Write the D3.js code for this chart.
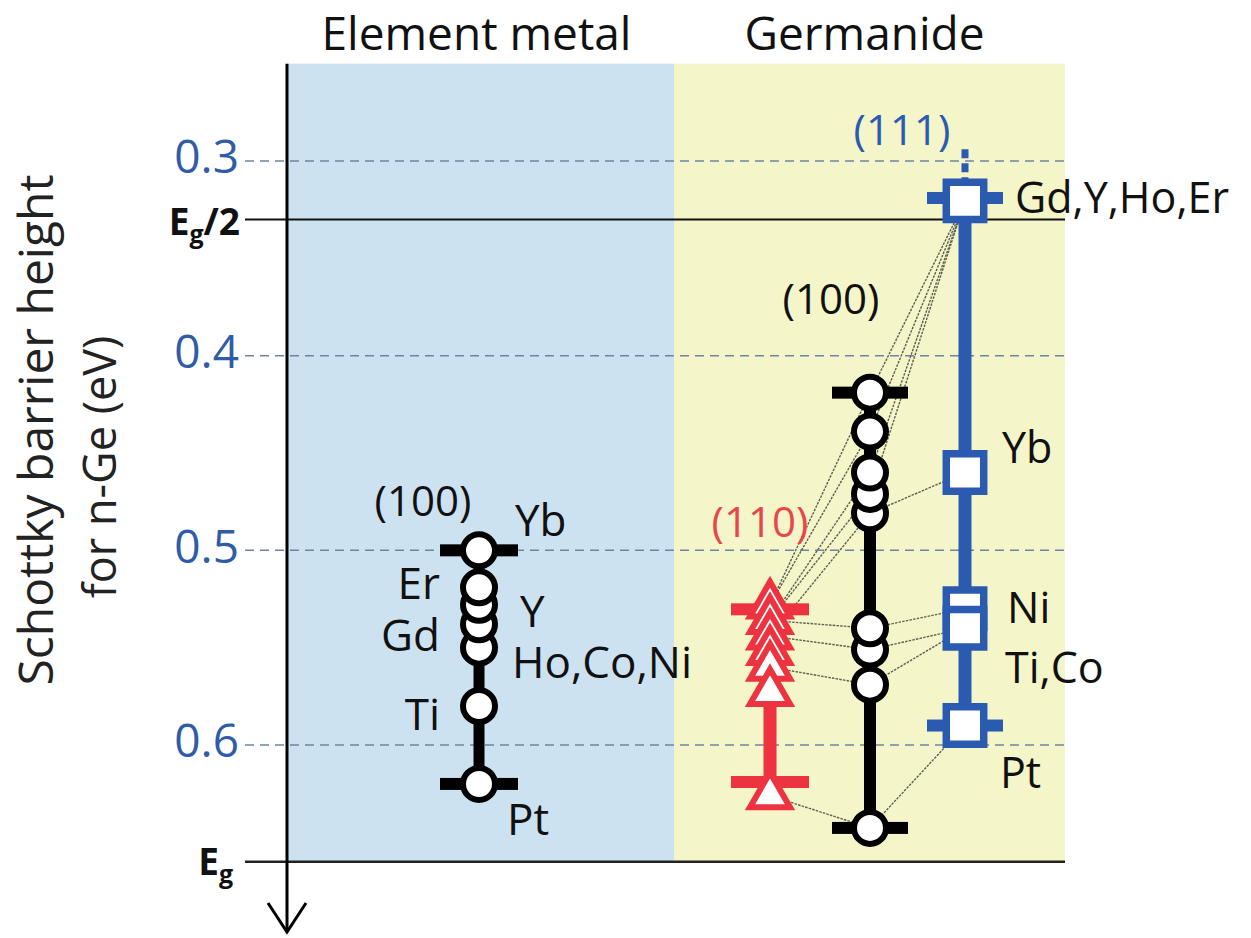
<!DOCTYPE html>
<html><head><meta charset="utf-8">
<script src="https://cdn.jsdelivr.net/npm/d3@7"></script>
<style>
body{margin:0;background:#fff}
svg{display:block}
text{font-family:"Open Sans",sans-serif}
</style>
</head><body>
<svg id="c" width="1251" height="938"></svg>
<script>
// ---------- data ----------
const yTicks = [0.3, 0.4, 0.5, 0.6];
const plotTopValue = 0.25;
const EgHalf = 0.33;
const Eg = 0.66;

const groupTitles = ["Element metal", "Germanide"];
const columns = ["metal100", "ge110", "ge100", "ge111"];
const columnLabels = ["(100)", "(110)", "(100)", "(111)"];

const metalNames = ["Yb", "Er", "Y", "Gd", "Ho,Co,Ni", "Ti", "Pt"];
const metalSBH   = [0.500, 0.519, 0.528, 0.538, 0.550, 0.580, 0.620];
const metalRange = [0.500, 0.620];

const ge110SBH   = [0.528, 0.536, 0.544, 0.552, 0.560, 0.573, 0.626];
const ge110Range = [0.5303, 0.619];

const ge100SBH   = [0.419, 0.439, 0.460, 0.471, 0.481, 0.540, 0.551, 0.569, 0.6426];
const ge100Range = [0.419, 0.6426];

const ge111Names = ["Gd,Y,Ho,Er", "Yb", "Ni", "Ti,Co", "Pt"];
const ge111SBH   = [0.3205, 0.460, 0.530, 0.540, 0.590];
const ge111Range = [0.319, 0.590];
const ge111Upper = 0.294;

// element-wise links (110) -> (100) -> (111)
const linkNames = ["Gd", "Y", "Ho", "Er", "Yb", "Ni", "Ti", "Co", "Pt"];
const link110 = [0.528, 0.528, 0.536, 0.536, 0.544, 0.536, 0.544, 0.560, 0.626];
const link100 = [0.419, 0.439, 0.460, 0.471, 0.481, 0.540, 0.551, 0.569, 0.6426];
const link111 = [0.3205, 0.3205, 0.3205, 0.3205, 0.460, 0.530, 0.540, 0.540, 0.590];

// ---------- layout ----------
const svg = d3.select("#c");
const y = d3.scaleLinear().domain([0.3, 0.6]).range([161, 745]);
const x = d3.scaleOrdinal().domain(columns).range([479, 770, 870, 965]);
const axisX = 287, splitX = 674, rightX = 1065, lineLeft = 245;

const C = {
  blueBg: "#cde2f1", yellowBg: "#f4f5c8",
  grid: "#6f84a3", tick: "#2f5ca8",
  red: "#ee3340", redText: "#e8474a", blue: "#2a5bb0", black: "#000"
};

// backgrounds
svg.append("rect").attr("x", axisX).attr("y", y(plotTopValue))
  .attr("width", splitX - axisX).attr("height", y(Eg) - y(plotTopValue)).attr("fill", C.blueBg);
svg.append("rect").attr("x", splitX).attr("y", y(plotTopValue))
  .attr("width", rightX - splitX).attr("height", y(Eg) - y(plotTopValue)).attr("fill", C.yellowBg);

// group titles
svg.selectAll("text.gt").data(groupTitles).join("text")
  .attr("class", "gt")
  .attr("x", (d, i) => i === 0 ? (axisX + splitX) / 2 - 4 : (splitX + rightX) / 2 - 5)
  .attr("y", 50).attr("text-anchor", "middle")
  .attr("font-size", 46).attr("fill", "#111").text(d => d);

// dashed grid lines
svg.selectAll("line.grid").data(yTicks).join("line")
  .attr("class", "grid")
  .attr("x1", lineLeft).attr("x2", rightX)
  .attr("y1", d => y(d)).attr("y2", d => y(d))
  .attr("stroke", C.grid).attr("stroke-width", 1.5).attr("stroke-dasharray", "9,6");

// Eg/2 and Eg lines
svg.append("line").attr("x1", lineLeft).attr("x2", rightX)
  .attr("y1", y(EgHalf)).attr("y2", y(EgHalf)).attr("stroke", "#111").attr("stroke-width", 2);
svg.append("line").attr("x1", lineLeft).attr("x2", rightX)
  .attr("y1", y(Eg)).attr("y2", y(Eg)).attr("stroke", "#222").attr("stroke-width", 2.5);

// tick labels via axis
const axis = d3.axisLeft(y).tickValues(yTicks).tickFormat(d3.format(".1f")).tickSize(0).tickPadding(6);
const ax = svg.append("g").attr("transform", `translate(${lineLeft},-3)`).call(axis);
ax.select(".domain").remove();
ax.selectAll("text").attr("font-size", 46).attr("fill", C.tick)
  .attr("font-family", "'Open Sans',sans-serif");

// Eg/2 and Eg labels
const eh = svg.append("text").attr("x", 240).attr("y", y(EgHalf) + 16)
  .attr("text-anchor", "end").attr("font-weight", "bold").attr("font-size", 37).attr("fill", "#111");
eh.append("tspan").text("E");
eh.append("tspan").attr("font-size", 25).attr("dy", 8).text("g");
eh.append("tspan").attr("dy", -8).text("/2");
const eg = svg.append("text").attr("x", 233).attr("y", y(Eg) + 13)
  .attr("text-anchor", "end").attr("font-weight", "bold").attr("font-size", 37).attr("fill", "#111");
eg.append("tspan").text("E");
eg.append("tspan").attr("font-size", 25).attr("dy", 8).text("g");

// y axis with arrow
svg.append("line").attr("x1", axisX).attr("x2", axisX)
  .attr("y1", y(plotTopValue)).attr("y2", 931).attr("stroke", "#000").attr("stroke-width", 3);
svg.append("path").attr("d", `M${axisX - 19},903 L${axisX},932 L${axisX + 19},903`)
  .attr("fill", "none").attr("stroke", "#000").attr("stroke-width", 3);

// axis title
svg.append("text").attr("transform", "translate(53,430) rotate(-90)")
  .attr("text-anchor", "middle").attr("font-size", 48).attr("fill", "#222").text("Schottky barrier height");
svg.append("text").attr("transform", "translate(116,467) rotate(-90)")
  .attr("text-anchor", "middle").attr("font-size", 45).attr("fill", "#222").text("for n-Ge (eV)");

// links
const linkData = linkNames.map((n, i) => [["ge110", link110[i]], ["ge100", link100[i]], ["ge111", link111[i]]]);
const lineGen = d3.line().x(d => x(d[0])).y(d => y(d[1]));
svg.append("g").selectAll("path").data(linkData).join("path")
  .attr("d", lineGen).attr("fill", "none")
  .attr("stroke", "#5d5f52").attr("stroke-width", 1.4).attr("stroke-dasharray", "2.5,1.2");

// helper: vertical bar with caps
function column(col, range, color, width, capW) {
  const g = svg.append("g");
  g.append("line").attr("x1", x(col)).attr("x2", x(col))
    .attr("y1", y(range[0])).attr("y2", y(range[1]))
    .attr("stroke", color).attr("stroke-width", width);
  g.selectAll("rect").data(range).join("rect")
    .attr("x", x(col) - capW / 2).attr("y", d => y(d) - 6)
    .attr("width", capW).attr("height", 12).attr("fill", color);
  return g;
}

// Element metal (100)
column("metal100", metalRange, C.black, 11, 78);
const metalIdx = d3.range(metalSBH.length).sort((a, b) => metalSBH[b] - metalSBH[a]);
svg.append("g").selectAll("circle").data(metalIdx).join("circle")
  .attr("cx", x("metal100")).attr("cy", i => y(metalSBH[i])).attr("r", 16)
  .attr("fill", "#fff").attr("stroke", C.black).attr("stroke-width", 6);

// Germanide (110)
column("ge110", ge110Range, C.red, 13, 78);
const tri = d3.symbol().type(d3.symbolTriangle).size(693);
svg.append("g").selectAll("path").data(ge110SBH).join("path")
  .attr("d", tri).attr("transform", d => `translate(${x("ge110")},${y(d)})`)
  .attr("fill", "#fff").attr("stroke", C.red).attr("stroke-width", 6).attr("stroke-linejoin", "miter");

// Germanide (100)
column("ge100", ge100Range, C.black, 12, 76);
const ge100Sorted = ge100SBH.slice().sort((a, b) => b - a);
svg.append("g").selectAll("circle").data(ge100Sorted).join("circle")
  .attr("cx", x("ge100")).attr("cy", d => y(d)).attr("r", 16)
  .attr("fill", "#fff").attr("stroke", C.black).attr("stroke-width", 6);

// Germanide (111)
svg.append("line").attr("x1", x("ge111")).attr("x2", x("ge111"))
  .attr("y1", y(ge111Upper)).attr("y2", y(ge111Range[0]))
  .attr("stroke", C.blue).attr("stroke-width", 7).attr("stroke-dasharray", "9,5");
column("ge111", ge111Range, C.blue, 13, 76);
const sq = d3.symbol().type(d3.symbolSquare).size(1400);
svg.append("g").selectAll("path").data(ge111SBH).join("path")
  .attr("d", sq).attr("transform", d => `translate(${x("ge111")},${y(d)})`)
  .attr("fill", "#fff").attr("stroke", C.blue).attr("stroke-width", 7.5);

// point labels
const metalLabelPos = [["start", 36, -14], ["end", -39, 12], ["start", 41, 22], ["end", -39, 27],
                       ["start", 33, 30], ["end", -39, 24], ["start", 28, 51]];
svg.append("g").selectAll("text").data(metalNames).join("text")
  .attr("x", (d, i) => x("metal100") + metalLabelPos[i][1])
  .attr("y", (d, i) => y(metalSBH[i]) + metalLabelPos[i][2])
  .attr("text-anchor", (d, i) => metalLabelPos[i][0])
  .attr("font-size", 44).attr("fill", "#111").text(d => d);

const ge111LabelPos = [[50, 12], [37, -9], [42, 14], [40, 55], [35, 62]];
svg.append("g").selectAll("text").data(ge111Names).join("text")
  .attr("x", (d, i) => x("ge111") + ge111LabelPos[i][0])
  .attr("y", (d, i) => y(ge111SBH[i]) + ge111LabelPos[i][1])
  .attr("font-size", 43).attr("fill", "#111").text(d => d);

// column (orientation) labels
const colLabelPos = [[-56, -34, "#111"], [-10, -72, C.redText], [-39, -79, "#111"], [-63, -53, C.blue]];
const colTop = [metalRange[0], ge110Range[0], ge100Range[0], ge111Range[0]];
svg.append("g").selectAll("text").data(columnLabels).join("text")
  .attr("x", (d, i) => x(columns[i]) + colLabelPos[i][0])
  .attr("y", (d, i) => y(colTop[i]) + colLabelPos[i][1])
  .attr("text-anchor", "middle").attr("font-size", 42)
  .attr("fill", (d, i) => colLabelPos[i][2]).text(d => d);
</script>
</body></html>
